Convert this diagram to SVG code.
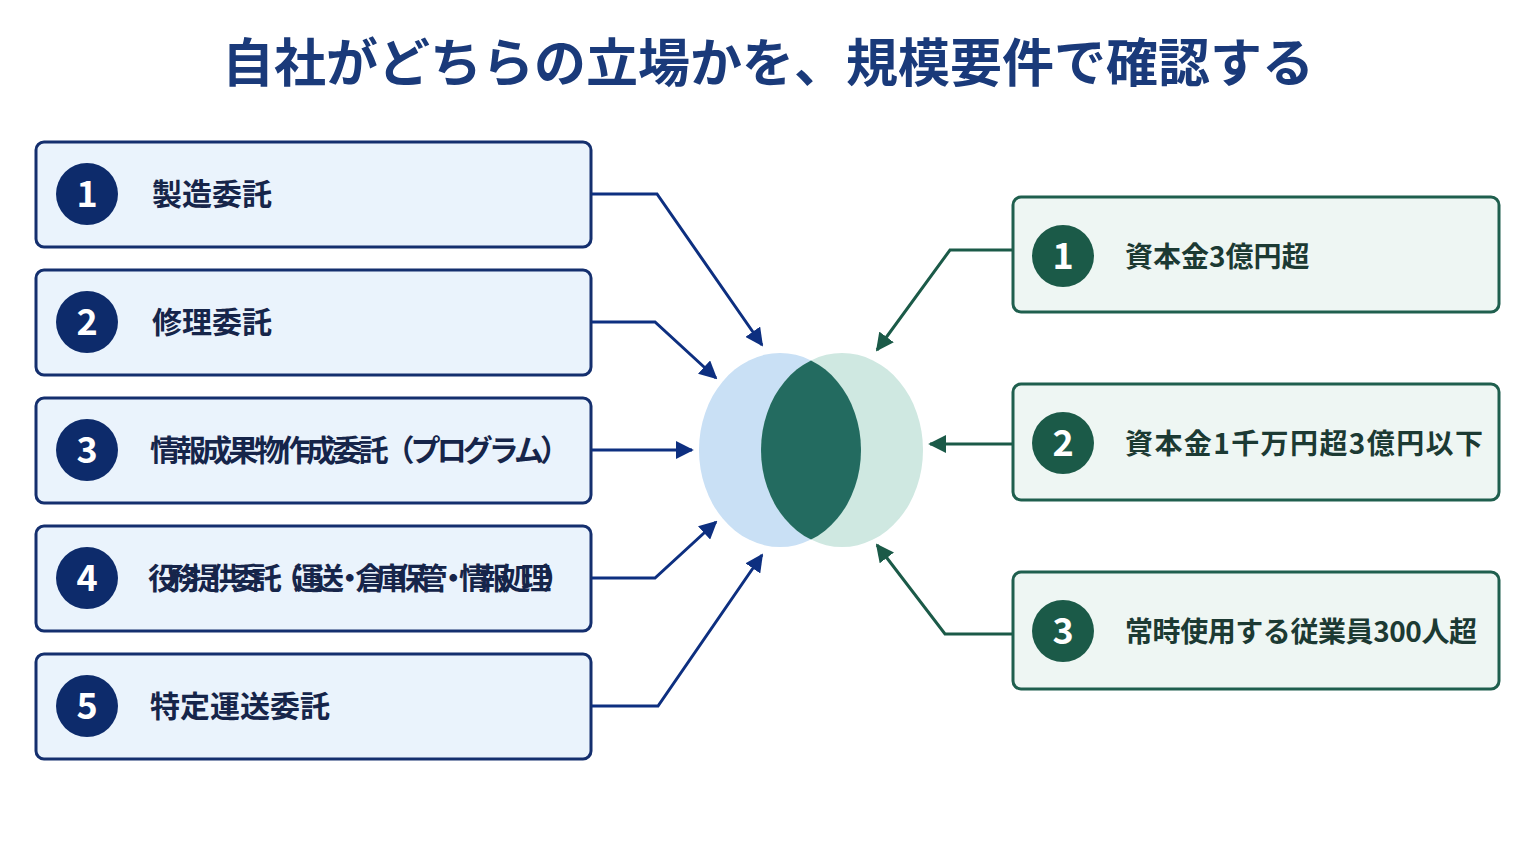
<svg xmlns="http://www.w3.org/2000/svg" width="1536" height="864" viewBox="0 0 1536 864">
<style>
text{font-family:"Noto Sans CJK JP","Noto Sans",sans-serif;font-weight:bold}
.lb{fill:#eaf3fc;stroke:#142f6e;stroke-width:3}
.rb{fill:#eef6f3;stroke:#1f5f4e;stroke-width:3}
.ln{fill:#0d2b6b}.gn{fill:#1b5a48}
.num{fill:#fff;font-size:36px;text-anchor:middle}
.lt{fill:#16254a;font-size:30px}
.rt{fill:#1c3a33;font-size:28px}
.bc{fill:none;stroke:#0d2f80;stroke-width:3}
.gc{fill:none;stroke:#1b5a48;stroke-width:3}
</style>
<defs>
<marker id="ab" viewBox="0 0 10 10" refX="9" refY="5" markerWidth="6" markerHeight="6" orient="auto"><path d="M0,0L10,5L0,10z" fill="#0d2f80"/></marker>
<marker id="ag" viewBox="0 0 10 10" refX="9" refY="5" markerWidth="6" markerHeight="6" orient="auto"><path d="M0,0L10,5L0,10z" fill="#1b5a48"/></marker>
<clipPath id="cl"><ellipse cx="780" cy="450" rx="81" ry="97"/></clipPath>
</defs>
<rect width="1536" height="864" fill="#fff"/>
<text x="768" y="82" font-size="52" text-anchor="middle" fill="#1a3a7a">自社がどちらの立場かを、規模要件で確認する</text>
<g id="venn">
<ellipse cx="780" cy="450" rx="81" ry="97" fill="#c9e0f5"/>
<ellipse cx="842" cy="450" rx="81" ry="97" fill="#cfe8e1"/>
<ellipse cx="842" cy="450" rx="81" ry="97" fill="#236b60" clip-path="url(#cl)"/>
</g>
<g id="l1"><rect class="lb" x="36" y="142" width="555" height="105" rx="8"/><circle class="ln" cx="87" cy="194" r="31"/><text class="num" x="87" y="207">1</text><text class="lt" x="152" y="205">製造委託</text></g>
<g id="l2"><rect class="lb" x="36" y="270" width="555" height="105" rx="8"/><circle class="ln" cx="87" cy="322" r="31"/><text class="num" x="87" y="335">2</text><text class="lt" x="152" y="333">修理委託</text></g>
<g id="l3"><rect class="lb" x="36" y="398" width="555" height="105" rx="8"/><circle class="ln" cx="87" cy="450" r="31"/><text class="num" x="87" y="463">3</text><text class="lt" x="150" y="461" textLength="420">情報成果物作成委託（プログラム）</text></g>
<g id="l4"><rect class="lb" x="36" y="526" width="555" height="105" rx="8"/><circle class="ln" cx="87" cy="578" r="31"/><text class="num" x="87" y="591">4</text><text class="lt" x="148" y="589" font-size="27" textLength="424">役務提供委託（運送・倉庫保管・情報処理）</text></g>
<g id="l5"><rect class="lb" x="36" y="654" width="555" height="105" rx="8"/><circle class="ln" cx="87" cy="706" r="31"/><text class="num" x="87" y="719">5</text><text class="lt" x="150" y="717">特定運送委託</text></g>
<g id="r1"><rect class="rb" x="1013" y="197" width="486" height="115" rx="8"/><circle class="gn" cx="1063" cy="256" r="31"/><text class="num" x="1063" y="269">1</text><text class="rt" x="1125" y="267">資本金3億円超</text></g>
<g id="r2"><rect class="rb" x="1013" y="384" width="486" height="116" rx="8"/><circle class="gn" cx="1063" cy="443" r="31"/><text class="num" x="1063" y="456">2</text><text class="rt" x="1125" y="454" textLength="358">資本金1千万円超3億円以下</text></g>
<g id="r3"><rect class="rb" x="1013" y="572" width="486" height="117" rx="8"/><circle class="gn" cx="1063" cy="631" r="31"/><text class="num" x="1063" y="644">3</text><text class="rt" x="1125" y="642" textLength="352">常時使用する従業員300人超</text></g>
<g id="connectors">
<polyline class="bc" points="592,194 657,194 762,345" marker-end="url(#ab)"/>
<polyline class="bc" points="592,322 655,322 716,378" marker-end="url(#ab)"/>
<polyline class="bc" points="592,450 692,450" marker-end="url(#ab)"/>
<polyline class="bc" points="592,578 655,578 716,522" marker-end="url(#ab)"/>
<polyline class="bc" points="592,706 658,706 762,555" marker-end="url(#ab)"/>
<polyline class="gc" points="1012,250 950,250 877,350" marker-end="url(#ag)"/>
<polyline class="gc" points="1012,444 930,444" marker-end="url(#ag)"/>
<polyline class="gc" points="1012,634 945,634 877,545" marker-end="url(#ag)"/>
</g>
</svg>
